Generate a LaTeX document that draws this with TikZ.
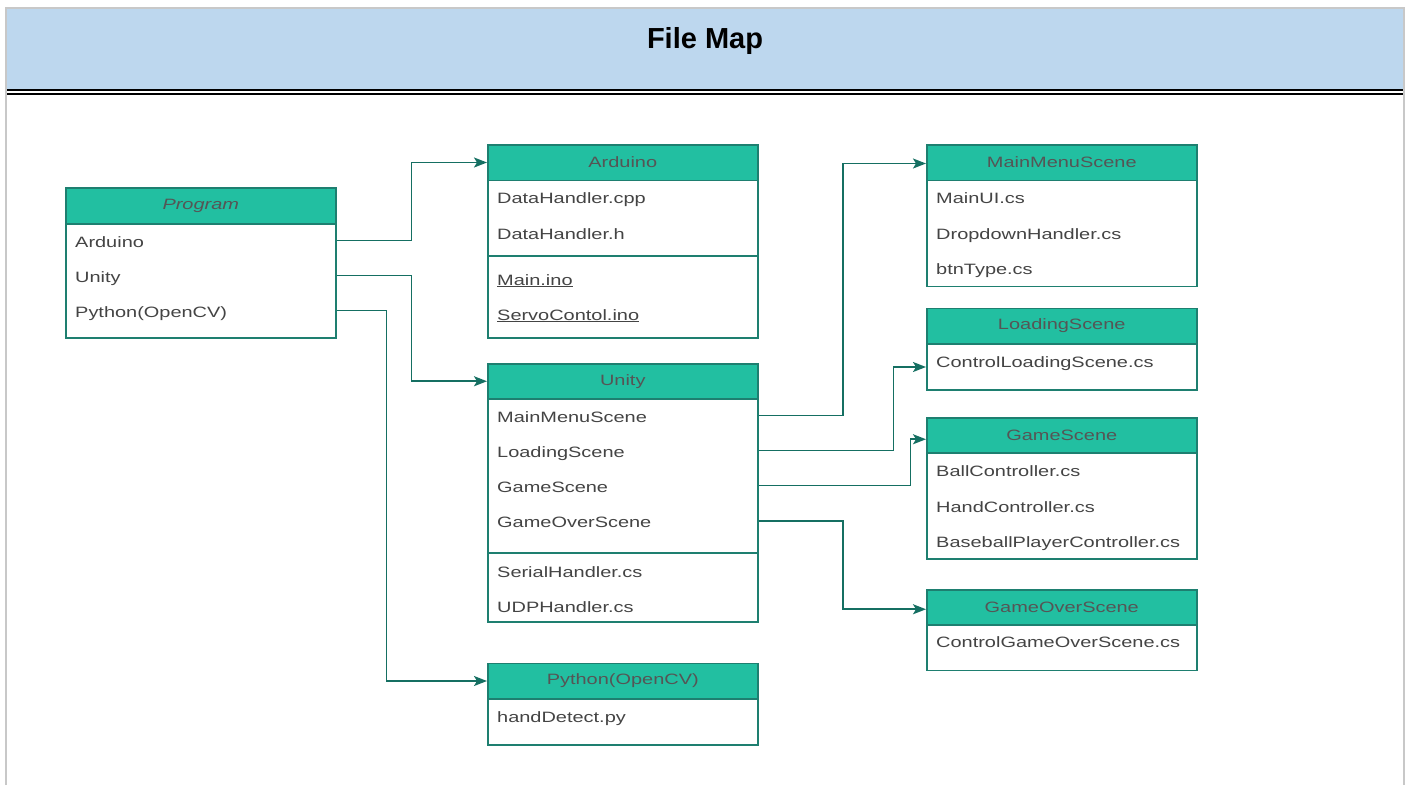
\documentclass[tikz,border=0pt]{standalone}
\usepackage{fontspec}
\usetikzlibrary{arrows.meta,calc}
\newfontfamily\bodyfont[FakeStretch=1.33]{Liberation Sans}
\newfontfamily\titlefont{Liberation Sans}
\definecolor{hdrfill}{HTML}{22BFA1}
\definecolor{boxline}{HTML}{1E7F70}
\definecolor{wire}{HTML}{156F62}
\definecolor{labeltext}{HTML}{444444}
\definecolor{hdrtext}{HTML}{555555}
\definecolor{bannerblue}{HTML}{BDD7EE}
\definecolor{framegray}{HTML}{C8C8C8}
\newcommand{\rowfont}{\bodyfont\fontsize{15}{18}\selectfont}
\begin{document}
\begin{tikzpicture}[x=1pt,y=-1pt,
  hdr/.style={rectangle, draw=boxline, fill=hdrfill, line width=1.5pt,
    anchor=north west, minimum width=270pt, minimum height=35.5pt,
    inner sep=0pt, font=\rowfont, text=hdrtext},
  boxbody/.style={rectangle, draw=boxline, fill=white, line width=1.5pt,
    anchor=north west, minimum width=270pt, inner sep=0pt},
  row/.style={anchor=base west, inner sep=0pt, font=\rowfont, text=labeltext},
  divider/.style={draw=boxline, line width=1.5pt},
  conn/.style={draw=wire, line width=1.8pt, -{Stealth[length=13pt,width=10pt,inset=3pt]}}
]
\useasboundingbox (0,0) rectangle (1410,785);

% page banner and frame
\fill[bannerblue] (7,9.3) rectangle (1402.7,89.3);
\draw[framegray, line width=2pt] (6,785) -- (6,8.3) -- (1403.7,8.3) -- (1403.7,785);
\draw[black, line width=2pt] (7,90.3) -- (1402.7,90.3);
\draw[black, line width=2pt] (7,94.3) -- (1402.7,94.3);
\node[font=\titlefont\bfseries\fontsize{29}{34}\selectfont, anchor=base] (title) at (705,48) {File Map};

% Program
\node[boxbody, minimum height=114pt] (progB) at (65,223) {};
\node[hdr, minimum height=36pt] (progH) at (65,187) {\itshape Program};
\node[row] (pArd) at (75,247) {Arduino};
\node[row] (pUni) at (75,282) {Unity};
\node[row] (pPy) at (75,317) {Python(OpenCV)};

% Arduino
\node[boxbody, minimum height=157.5pt] (ardB) at (487,179.5) {};
\node[hdr] (ardH) at (487,144) {Arduino};
\node[row] (aDc) at (497,203) {DataHandler.cpp};
\node[row] (aDh) at (497,239) {DataHandler.h};
\draw[divider] (ardB.west |- 0,256) -- (ardB.east |- 0,256);
\node[row] (aMain) at (497,285) {\underline{Main.ino}};
\node[row] (aServo) at (497,320) {\underline{ServoContol.ino}};

% Unity
\node[boxbody, minimum height=223pt] (uniB) at (487,398) {};
\node[hdr, minimum height=35pt] (uniH) at (487,363) {Unity};
\node[row] (uMM) at (497,422) {MainMenuScene};
\node[row] (uLS) at (497,457) {LoadingScene};
\node[row] (uGS) at (497,492) {GameScene};
\node[row] (uGO) at (497,527.5) {GameOverScene};
\draw[divider] (uniB.west |- 0,553) -- (uniB.east |- 0,553);
\node[row] (uSer) at (497,577.5) {SerialHandler.cs};
\node[row] (uUdp) at (497,612.5) {UDPHandler.cs};

% Python
\node[boxbody, minimum height=46pt] (pyB) at (487,698) {};
\node[hdr] (pyH) at (487,662.5) {Python(OpenCV)};
\node[row] (pyHand) at (497,722) {handDetect.py};

% MainMenuScene
\node[boxbody, minimum height=106pt] (mmB) at (926,179.5) {};
\node[hdr] (mmH) at (926,144) {MainMenuScene};
\node[row] (mUI) at (936,203.5) {MainUI.cs};
\node[row] (mDrop) at (936,239) {DropdownHandler.cs};
\node[row] (mBtn) at (936,274) {btnType.cs};

% LoadingScene
\node[boxbody, minimum height=46pt] (lsB) at (926,343) {};
\node[hdr] (lsH) at (926,307.5) {LoadingScene};
\node[row] (lsCtl) at (936,367) {ControlLoadingScene.cs};

% GameScene
\node[boxbody, minimum height=106pt] (gsB) at (926,452) {};
\node[hdr, minimum height=35pt] (gsH) at (926,417) {GameScene};
\node[row] (gBall) at (936,476) {BallController.cs};
\node[row] (gHand) at (936,512) {HandController.cs};
\node[row] (gBase) at (936,547) {BaseballPlayerController.cs};

% GameOverScene
\node[boxbody, minimum height=45.5pt] (goB) at (926,624) {};
\node[hdr, minimum height=35pt] (goH) at (926,589) {GameOverScene};
\node[row] (goCtl) at (936,647.5) {ControlGameOverScene.cs};

% connectors leave each row a little above its baseline
\foreach \r in {pArd,pUni,pPy,uMM,uLS,uGS,uGO}
  \coordinate (\r-lvl) at ($(\r.base)+(0,-6.5)$);
\draw[conn] (progB.east |- pArd-lvl) -- ++(75,0) |- (ardH.west);
\draw[conn] (progB.east |- pUni-lvl) -- ++(75,0) |- (uniH.west);
\draw[conn] (progB.east |- pPy-lvl) -- ++(50,0) |- (pyH.west);
\draw[conn] (uniB.east |- uMM-lvl) -- ++(84.5,0) |- ([yshift=-1pt]mmH.west);
\draw[conn] (uniB.east |- uLS-lvl) -- ++(135,0) |- (lsB.west |- lsCtl.base);
\draw[conn] (uniB.east |- uGS-lvl) -- ++(152,0) |- ([yshift=-4pt]gsH.west);
\draw[conn] (uniB.east |- uGO-lvl) -- ++(84.5,0) |- ([yshift=-2pt]goH.west);
\end{tikzpicture}
\end{document}
